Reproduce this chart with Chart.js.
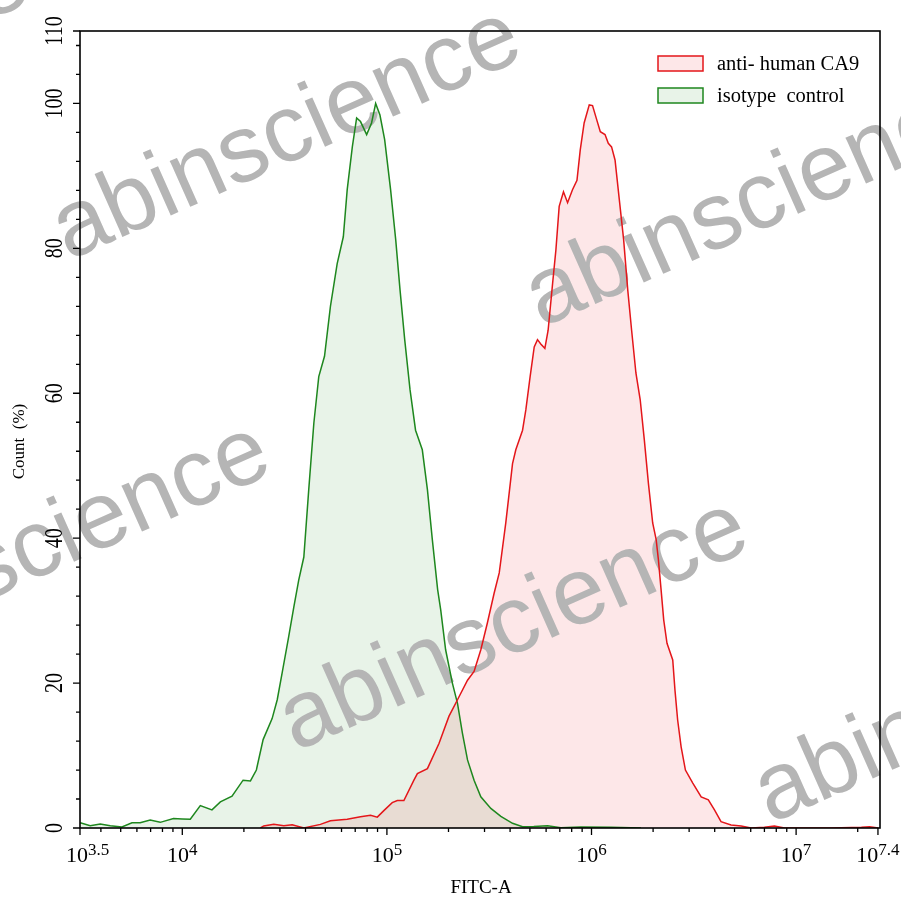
<!DOCTYPE html>
<html>
<head>
<meta charset="utf-8">
<script src="https://cdn.jsdelivr.net/npm/chart.js@4.4.1/dist/chart.umd.min.js"></script>
<style>
  html, body { margin: 0; padding: 0; background: #ffffff; }
  canvas { display: block; }
</style>
</head>
<body>
<canvas id="c" width="901" height="907"></canvas>
<script>
// ---- Data (log10 of FITC-A intensity, and Count %) ----
const seriesNames = ['anti- human CA9', 'isotype  control'];

const redExp = [4.382,4.398,4.447,4.496,4.537,4.594,4.675,4.724,4.806,4.871,4.920,4.953,4.985,5.026,5.051,5.083,5.132,5.149,5.198,5.255,5.303,5.345,5.394,5.426,5.459,5.491,5.524,5.549,5.581,5.614,5.630,5.663,5.679,5.700,5.720,5.736,5.752,5.772,5.788,5.810,5.826,5.842,5.863,5.883,5.907,5.929,5.945,5.964,5.989,6.005,6.026,6.043,6.066,6.082,6.098,6.115,6.136,6.157,6.177,6.196,6.217,6.238,6.258,6.278,6.299,6.316,6.327,6.340,6.353,6.369,6.397,6.408,6.421,6.438,6.459,6.495,6.536,6.571,6.601,6.633,6.682,6.731,6.780,6.845,6.894,6.943,7.025,7.172,7.319,7.359,7.401];
const redCount = [0,0.28,0.5,0.3,0.46,0,0.5,1.0,1.2,1.56,1.75,1.5,2.4,3.5,3.8,3.8,6.6,7.5,8.2,11.7,15.4,17.7,20.4,21.6,24.6,28.3,32.4,35.2,42.1,50.3,52.2,54.9,57.7,62.3,66.4,67.4,66.8,66.2,68.7,75.2,79.8,85.8,87.8,86.3,88.1,89.4,93.6,97.3,99.8,99.7,97.7,96.1,95.7,94.5,94.0,92.2,86.7,81.2,74.3,68.7,62.8,59.1,53.6,47.6,42.1,39.8,37.0,32.9,28.7,25.5,23.2,19.0,14.9,11.2,8.0,6.2,4.3,3.9,2.5,0.87,0.41,0.28,0,0.1,0.28,0,0,0,0.1,0.18,0];

const greenExp = [3.501,3.550,3.599,3.648,3.705,3.754,3.794,3.843,3.892,3.957,3.999,4.039,4.088,4.145,4.186,4.243,4.297,4.333,4.362,4.395,4.439,4.464,4.488,4.520,4.545,4.569,4.594,4.618,4.643,4.667,4.695,4.724,4.757,4.787,4.806,4.831,4.852,4.871,4.901,4.925,4.945,4.966,4.989,5.018,5.043,5.064,5.087,5.113,5.140,5.173,5.198,5.222,5.248,5.263,5.287,5.320,5.345,5.369,5.394,5.426,5.459,5.508,5.557,5.614,5.663,5.718,5.785,5.850,5.948,6.095,6.242];
const greenCount = [0.73,0.3,0.55,0.3,0.14,0.73,0.73,1.1,0.78,1.3,1.24,1.2,3.1,2.5,3.6,4.4,6.6,6.5,8.0,12.2,15.1,17.7,21.4,26.4,30.5,34.2,37.4,46.7,55.9,62.3,65.1,72.0,77.9,81.6,88.1,94.0,98.0,97.5,95.7,97.3,100,98.4,95.0,88.1,81.2,74.3,67.4,60.5,54.9,52.2,46.7,39.8,32.9,30.1,24.6,20.0,17.2,13.1,9.4,6.6,4.3,2.7,1.6,0.65,0.18,0.2,0.3,0.05,0.15,0.1,0];

// ---- Axis ticks ----
const xMajorExp = [3.5, 4, 5, 6, 7, 7.4];
const xMajorLabels = ['3.5', '4', '5', '6', '7', '7.4'];
const xMinExp = 3.5, xMaxExp = 7.41;
const yMajorTicks = [0, 20, 40, 60, 80, 100, 110];
const yMinorStep = 4;
const yMax = 110;
const xTitle = 'FITC-A';
const yTitle = 'Count  (%)';
const watermarkText = 'abinscience';
const watermarkCenters = [[287,135],[760,202],[36,550],[514,626],[989,698],[-205,78]];

// ---- Build point lists ----
const toPts = (ex, ct) => ex.map((e, i) => ({ x: Math.pow(10, e), y: ct[i] }));

const SERIF = '"Liberation Serif", "Times New Roman", serif';
const SANS = '"Liberation Sans", Arial, sans-serif';

const customPlugin = {
  id: 'custom',
  beforeDraw(chart) {
    const c = chart.ctx;
    c.save();
    c.fillStyle = '#ffffff';
    c.fillRect(0, 0, chart.width, chart.height);
    c.restore();
  },
  beforeDatasetsDraw(chart) {
    // watermark (after fills, before lines)
    const c = chart.ctx;
    c.save();
    c.fillStyle = '#b5b5b5';
    c.font = '95px ' + SANS;
    c.textAlign = 'center';
    c.textBaseline = 'middle';
    for (const [wx, wy] of watermarkCenters) {
      c.save();
      c.translate(wx, wy);
      c.rotate(-24 * Math.PI / 180);
      c.fillText(watermarkText, 0, 0);
      c.restore();
    }
    c.restore();
  },
  afterDraw(chart) {
    const c = chart.ctx;
    const a = chart.chartArea;
    const xs = chart.scales.x, ys = chart.scales.y;
    c.save();
    c.strokeStyle = '#000';
    c.fillStyle = '#000';
    // frame
    c.lineWidth = 1.6;
    c.strokeRect(a.left, a.top, a.right - a.left, a.bottom - a.top);
    // y ticks
    c.lineWidth = 1.3;
    c.beginPath();
    for (let v = 0; v <= yMax; v += yMinorStep) {
      const y = ys.getPixelForValue(v);
      const major = yMajorTicks.includes(v);
      c.moveTo(a.left, y); c.lineTo(a.left - (major ? 7 : 4), y);
    }
    for (const v of yMajorTicks) {
      const y = ys.getPixelForValue(v);
      c.moveTo(a.left, y); c.lineTo(a.left - 7, y);
    }
    // x ticks
    for (const e of xMajorExp) {
      const x = xs.getPixelForValue(Math.pow(10, e));
      c.moveTo(x, a.bottom); c.lineTo(x, a.bottom + 7);
    }
    for (let n = 3; n <= 7; n++) {
      for (let k = 2; k <= 9; k++) {
        const val = k * Math.pow(10, n);
        if (val <= Math.pow(10, xMinExp) || val >= Math.pow(10, xMaxExp)) continue;
        const x = xs.getPixelForValue(val);
        c.moveTo(x, a.bottom); c.lineTo(x, a.bottom + 4);
      }
    }
    c.stroke();

    // y labels (rotated)
    c.font = '20px ' + SERIF;
    c.textAlign = 'center';
    c.textBaseline = 'middle';
    for (const v of yMajorTicks) {
      const y = ys.getPixelForValue(v);
      c.save();
      c.translate(a.left - 25, y);
      c.rotate(-Math.PI / 2);
      c.scale(1, 1.25);
      c.fillText(String(v), 0, 0);
      c.restore();
    }

    // x labels 10^n
    xMajorExp.forEach((e, i) => {
      const x = xs.getPixelForValue(Math.pow(10, e));
      c.font = '22px ' + SERIF;
      const wb = c.measureText('10').width;
      c.font = '17px ' + SERIF;
      const we = c.measureText(xMajorLabels[i]).width;
      let left = x - (wb + we) / 2;
      if (left < 66) left = 66;
      c.textAlign = 'left';
      c.textBaseline = 'alphabetic';
      c.font = '22px ' + SERIF;
      c.fillText('10', left, a.bottom + 34);
      c.font = '17px ' + SERIF;
      c.fillText(xMajorLabels[i], left + wb, a.bottom + 27);
    });

    // axis titles
    c.font = '19px ' + SERIF;
    c.textAlign = 'center';
    c.textBaseline = 'middle';
    c.fillText(xTitle, (a.left + a.right) / 2 + 1, a.bottom + 60);
    c.save();
    c.translate(20, (a.top + a.bottom) / 2 + 12);
    c.rotate(-Math.PI / 2);
    c.font = '17px ' + SERIF;
    c.fillText(yTitle, 0, 0);
    c.restore();

    // legend
    const boxX = 658, boxW = 45, boxH = 15;
    const rowY = [56, 88];
    chart.data.datasets.forEach((ds, i) => {
      c.fillStyle = ds.backgroundColor;
      c.fillRect(boxX, rowY[i], boxW, boxH);
      c.strokeStyle = ds.borderColor;
      c.lineWidth = 1.5;
      c.strokeRect(boxX, rowY[i], boxW, boxH);
      c.fillStyle = '#000';
      c.font = '20.5px ' + SERIF;
      c.textAlign = 'left';
      c.textBaseline = 'middle';
      c.fillText(ds.label, 717, rowY[i] + boxH / 2 + 1);
    });
    c.restore();
  }
};

new Chart(document.getElementById('c'), {
  type: 'line',
  data: {
    datasets: [
      {
        label: seriesNames[0],
        data: toPts(redExp, redCount),
        borderColor: 'rgb(228,22,26)',
        backgroundColor: 'rgba(240,20,30,0.1)',
        borderWidth: 1.5,
        pointRadius: 0,
        tension: 0,
        fill: 'origin'
      },
      {
        label: seriesNames[1],
        data: toPts(greenExp, greenCount),
        borderColor: 'rgb(30,135,30)',
        backgroundColor: 'rgba(34,139,34,0.1)',
        borderWidth: 1.5,
        pointRadius: 0,
        tension: 0,
        fill: 'origin'
      }
    ]
  },
  options: {
    responsive: false,
    animation: false,
    layout: { padding: { left: 80, right: 21, top: 31, bottom: 79 } },
    scales: {
      x: { type: 'logarithmic', min: Math.pow(10, xMinExp), max: Math.pow(10, xMaxExp), display: false },
      y: { type: 'linear', min: 0, max: yMax, display: false }
    },
    plugins: {
      legend: { display: false },
      tooltip: { enabled: false },
      filler: { drawTime: 'beforeDatasetsDraw' }
    }
  },
  plugins: [customPlugin]
});
</script>
</body>
</html>
